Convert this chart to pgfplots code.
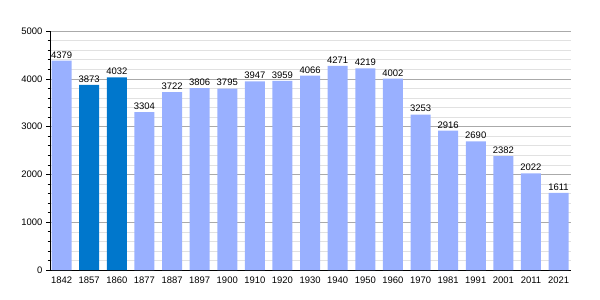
\documentclass[border=0pt]{standalone}
\usepackage{pgfplots}
\pgfplotsset{compat=1.18}
\usepackage{fontspec}
\setmainfont{Liberation Sans}
\definecolor{lightbar}{RGB}{153,176,255}
\definecolor{darkbar}{RGB}{0,119,204}
\definecolor{majgrid}{RGB}{170,170,170}
\definecolor{mingrid}{RGB}{225,225,225}
\begin{document}
\begin{tikzpicture}
\path[use as bounding box] (0,0) rectangle (600bp,300bp);
\begin{axis}[
  at={(50bp,30bp)}, anchor=south west,
  scale only axis, width=521bp, height=239bp,
  font=\fontsize{9.5}{11}\selectfont,
  xmin=-0.42, xmax=18.45, ymin=0, ymax=5000,
  axis x line*=bottom, axis y line*=left,
  axis line style={black, line width=0.8pt},
  xtick={0,...,18},
  xticklabels={1842,1857,1860,1877,1887,1897,1900,1910,1920,1930,1940,1950,1960,1970,1981,1991,2001,2011,2021},
  x tick style={draw=none},
  xticklabel style={yshift=1pt},
  ytick={0,1000,...,5000},
  minor y tick num=4,
  ymajorgrids, yminorgrids,
  major grid style={majgrid, line width=0.5pt},
  minor grid style={mingrid, line width=0.5pt},
  y tick style={black, line width=0.6pt},
  tick align=outside,
  major tick length=4bp, minor tick length=2.5bp,
  yticklabel style={/pgf/number format/.cd, fixed, 1000 sep={}, assume math mode=true},
  ybar, bar width=20bp, bar shift=0pt,
  nodes near coords,
  every node near coord/.append style={font=\fontsize{9.5}{11}\selectfont, black, yshift=-1pt, /pgf/number format/.cd, fixed, 1000 sep={}, assume math mode=true},
  clip=false,
]
\addplot[fill=lightbar, draw=none] coordinates {
(0,4379) (3,3304) (4,3722) (5,3806) (6,3795) (7,3947) (8,3959) (9,4066) (10,4271) (11,4219) (12,4002) (13,3253) (14,2916) (15,2690) (16,2382) (17,2022) (18,1611)};
\addplot[fill=darkbar, draw=none] coordinates {(1,3873) (2,4032)};
\end{axis}
\end{tikzpicture}
\end{document}
